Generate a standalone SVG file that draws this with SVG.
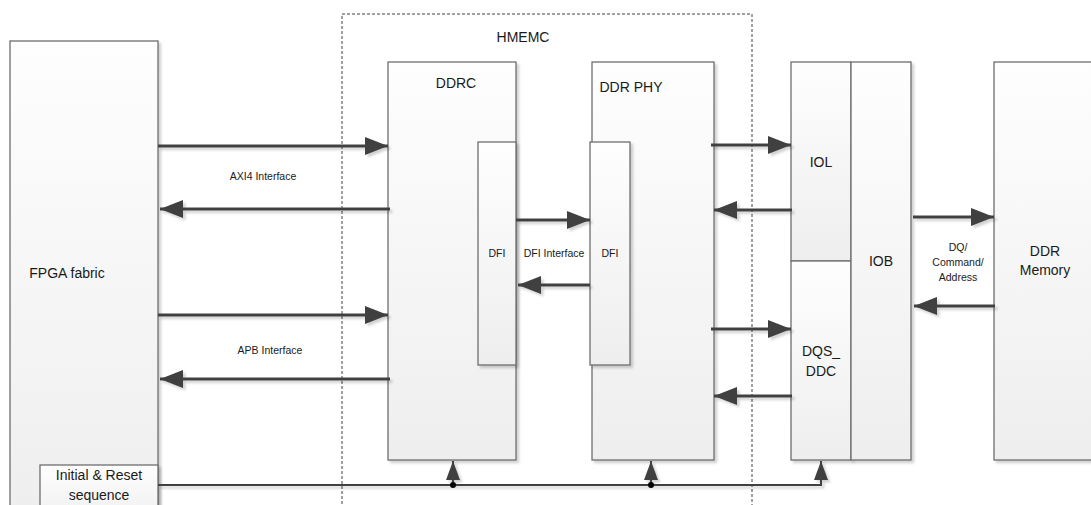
<svg xmlns="http://www.w3.org/2000/svg" width="1091" height="505" viewBox="0 0 1091 505">
  <style>
    .box { fill: url(#boxFill); stroke: #6e6e6e; stroke-width: 1.3; filter: url(#shadow); }
    .lbl { font-family: "Liberation Sans", Arial, sans-serif; font-size: 14px; fill: #1a1a1a; text-anchor: middle; }
    .sm { font-family: "Liberation Sans", Arial, sans-serif; font-size: 10.5px; fill: #1a1a1a; text-anchor: middle; }
    .bus { stroke: #404040; stroke-width: 3; fill: none; marker-end: url(#head); }
    .ctlArrow { stroke: #404040; stroke-width: 2; fill: none; marker-end: url(#headSm); }
  </style>
  <defs>
    <linearGradient id="boxFill" x1="0" y1="0" x2="0" y2="1">
      <stop offset="0" stop-color="#fefefe"/>
      <stop offset="1" stop-color="#eeeeee"/>
    </linearGradient>
    <filter id="shadow" x="-10%" y="-10%" width="130%" height="130%">
      <feDropShadow dx="2.5" dy="2.5" stdDeviation="1" flood-color="#000" flood-opacity="0.18"/>
    </filter>
    <!-- canvas-wide region so zero-height lines still get their shadow -->
    <filter id="lineShadow" filterUnits="userSpaceOnUse" x="0" y="0" width="1091" height="505">
      <feDropShadow dx="2.5" dy="2.5" stdDeviation="1" flood-color="#000" flood-opacity="0.18"/>
    </filter>
    <marker id="head" markerUnits="userSpaceOnUse" markerWidth="24" markerHeight="18" refX="23" refY="9" orient="auto">
      <path d="M0,0 L23,9 L0,18 Z" fill="#404040"/>
    </marker>
    <marker id="headSm" markerUnits="userSpaceOnUse" markerWidth="20" markerHeight="16" refX="19" refY="7" orient="auto">
      <path d="M0,0 L19,7 L0,14 Z" fill="#404040"/>
    </marker>
  </defs>

  <rect width="1091" height="505" fill="#ffffff"/>

  <!-- HMEMC boundary -->
  <g id="hmemc">
    <rect x="342" y="14" width="410" height="500" fill="none" stroke="#444" stroke-width="1" stroke-dasharray="3,2"/>
    <text class="lbl" x="523" y="42">HMEMC</text>
  </g>

  <!-- FPGA fabric -->
  <g id="fpga">
    <rect class="box" x="10" y="41" width="148" height="480"/>
    <text class="lbl" x="67" y="278">FPGA fabric</text>
  </g>
  <g id="init">
    <rect class="box" x="40" y="465" width="118" height="60"/>
    <text class="lbl" x="99" y="480">Initial &amp; Reset</text>
    <text class="lbl" x="99" y="500">sequence</text>
  </g>

  <!-- Controller -->
  <g id="ddrc">
    <rect class="box" x="388" y="62" width="128" height="398"/>
    <text class="lbl" x="456" y="88">DDRC</text>
  </g>
  <g id="dfi-ctrl">
    <rect class="box" x="478" y="142" width="38" height="223"/>
    <text class="sm" x="497" y="257">DFI</text>
  </g>

  <!-- PHY -->
  <g id="ddrphy">
    <rect class="box" x="592" y="62" width="122" height="398"/>
    <text class="lbl" x="631" y="92">DDR PHY</text>
  </g>
  <g id="dfi-phy">
    <rect class="box" x="590" y="142" width="40" height="223"/>
    <text class="sm" x="610" y="257">DFI</text>
  </g>

  <!-- IO logic / buffers -->
  <g id="iol">
    <rect class="box" x="791" y="62" width="60" height="199"/>
    <text class="lbl" x="821" y="167">IOL</text>
  </g>
  <g id="dqs-ddc">
    <rect class="box" x="791" y="261" width="60" height="199"/>
    <text class="lbl" x="821" y="356">DQS_</text>
    <text class="lbl" x="821" y="376">DDC</text>
  </g>
  <g id="iob">
    <rect class="box" x="851" y="62" width="60" height="398"/>
    <text class="lbl" x="881" y="266">IOB</text>
  </g>

  <!-- Memory device -->
  <g id="ddrmem">
    <rect class="box" x="994" y="62" width="110" height="398"/>
    <text class="lbl" x="1045" y="256">DDR</text>
    <text class="lbl" x="1045" y="275">Memory</text>
  </g>

  <!-- Connectors -->
  <g id="connectors">
    <g filter="url(#lineShadow)">
      <!-- AXI4 -->
      <line class="bus" x1="158" y1="146" x2="388" y2="146"/>
      <line class="bus" x1="390" y1="209" x2="160" y2="209"/>
      <!-- APB -->
      <line class="bus" x1="158" y1="315" x2="388" y2="315"/>
      <line class="bus" x1="390" y1="379" x2="160" y2="379"/>
      <!-- DFI -->
      <line class="bus" x1="516" y1="220" x2="590" y2="220"/>
      <line class="bus" x1="590" y1="285" x2="518" y2="285"/>
      <!-- PHY to IOL -->
      <line class="bus" x1="711" y1="145" x2="791" y2="145"/>
      <line class="bus" x1="792" y1="210" x2="714" y2="210"/>
      <!-- PHY to DQS_DDC -->
      <line class="bus" x1="711" y1="329" x2="791" y2="329"/>
      <line class="bus" x1="792" y1="396" x2="714" y2="396"/>
      <!-- IOB to memory -->
      <line class="bus" x1="913" y1="217" x2="994" y2="217"/>
      <line class="bus" x1="995" y1="306" x2="914" y2="306"/>
      <!-- reset / init distribution -->
      <polyline class="ctlArrow" points="158,485 821,485 821,461"/>
      <line class="ctlArrow" x1="453" y1="485" x2="453" y2="461"/>
      <line class="ctlArrow" x1="651" y1="485" x2="651" y2="461"/>
    </g>
    <circle cx="453" cy="485" r="3" fill="#000"/>
    <circle cx="651" cy="485" r="3" fill="#000"/>
    <text class="sm" x="263" y="180">AXI4 Interface</text>
    <text class="sm" x="270" y="354">APB Interface</text>
    <text class="sm" x="554" y="257">DFI Interface</text>
    <text class="sm" x="958" y="251">DQ/</text>
    <text class="sm" x="958" y="266">Command/</text>
    <text class="sm" x="958" y="281">Address</text>
  </g>
</svg>
